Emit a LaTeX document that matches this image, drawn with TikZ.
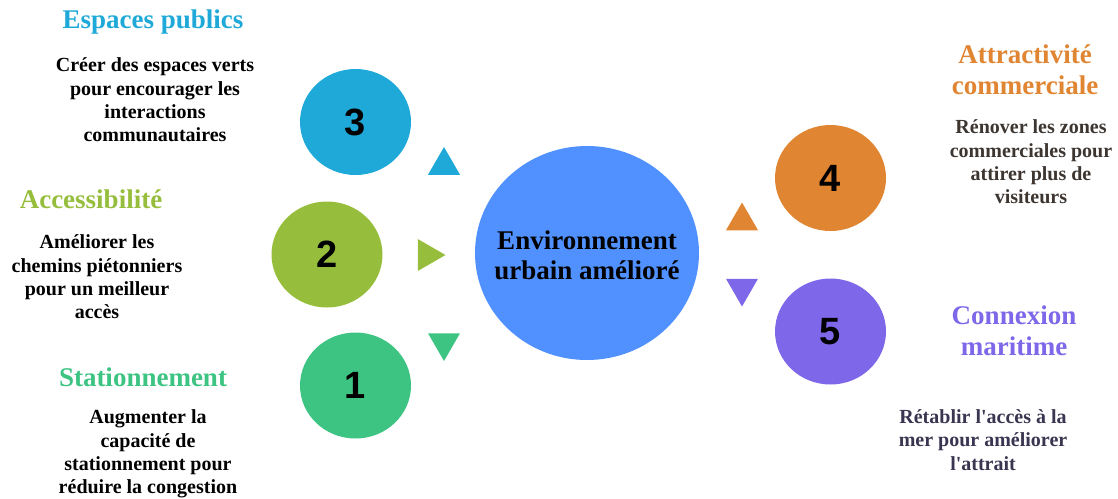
\documentclass[tikz,border=0pt]{standalone}
\usepackage{fontspec}
\setmainfont{Liberation Serif}
\newfontfamily\numfont{Liberation Sans}
\usetikzlibrary{shapes.geometric}
\definecolor{skyblue}{RGB}{31,169,216}
\definecolor{leafgreen}{RGB}{150,190,60}
\definecolor{mintgreen}{RGB}{61,196,130}
\definecolor{coreblue}{RGB}{80,145,255}
\definecolor{amber}{RGB}{224,133,50}
\definecolor{lavender}{RGB}{126,103,232}
\definecolor{browngrey}{RGB}{61,53,48}
\definecolor{slategrey}{RGB}{58,53,80}

\begin{document}
\begin{tikzpicture}[x=1pt, y=-1pt,
    bubble/.style={ellipse, minimum width=111pt, minimum height=106pt, inner sep=0pt,
        font=\numfont\bfseries\fontsize{38}{40}\selectfont},
    tri/.style={regular polygon, regular polygon sides=3, minimum size=37pt, inner sep=0pt},
    title/.style={align=center, font=\bfseries\fontsize{27}{31}\selectfont},
    desc/.style={align=center, font=\bfseries\fontsize{20}{23.3}\selectfont}]
    \useasboundingbox (0,0) rectangle (1118,498);

    % Central circle
    \node[ellipse, fill=coreblue, minimum width=224pt, minimum height=214pt, inner sep=0pt]
        (core) at (587,253) {};
    \node[align=center, font=\bfseries\fontsize{27}{30}\selectfont] (corelabel) at (587,255)
        {Environnement\\urbain amélioré};

    % Numbered circles
    \node[bubble, fill=skyblue] (n3) at (355.5,122) {3};
    \node[bubble, fill=leafgreen] (n2) at (327,254.5) {2};
    \node[bubble, fill=mintgreen] (n1) at (355.5,385.5) {1};
    \node[bubble, fill=amber] (n4) at (830.5,178) {4};
    \node[bubble, fill=lavender] (n5) at (830.5,331.5) {5};

    % Pointers
    \node[tri, fill=skyblue] (t3) at (444,165.5) {};
    \node[tri, fill=leafgreen, shape border rotate=-90] (t2) at (427,255) {};
    \node[tri, fill=mintgreen, shape border rotate=180] (t1) at (444,342.5) {};
    \node[tri, fill=amber] (t4) at (742,221) {};
    \node[tri, fill=lavender, shape border rotate=180] (t5) at (742,288) {};

    % Left labels
    \node[title, skyblue] (h3) at (153,22) {Espaces publics};
    \node[desc] (d3) at (155,100)
        {Créer des espaces verts\\pour encourager les\\interactions\\communautaires};
    \node[title, leafgreen] (h2) at (91,199) {Accessibilité};
    \node[desc] (d2) at (97,277)
        {Améliorer les\\chemins piétonniers\\pour un meilleur\\accès};
    \node[title, mintgreen] (h1) at (143,377) {Stationnement};
    \node[desc] (d1) at (148,454)
        {Augmenter la\\capacité de\\stationnement pour\\réduire la congestion};

    % Right labels
    \node[title, amber] (h4) at (1025,70) {Attractivité\\commerciale};
    \node[desc, browngrey] (d4) at (1031,162)
        {Rénover les zones\\commerciales pour\\attirer plus de\\visiteurs};
    \node[title, lavender] (h5) at (1014,331) {Connexion\\maritime};
    \node[desc, slategrey] (d5) at (983,440)
        {Rétablir l\textquotesingle accès à la\\mer pour améliorer\\l\textquotesingle attrait};
\end{tikzpicture}
\end{document}
